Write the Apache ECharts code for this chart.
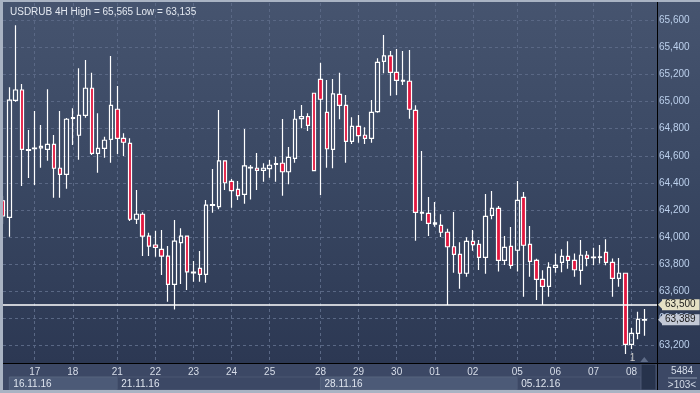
<!DOCTYPE html>
<html><head><meta charset="utf-8">
<script src="https://cdn.jsdelivr.net/npm/echarts@6/dist/echarts.min.js"></script>
<style>html,body{margin:0;padding:0;background:#3c4865;}#c{width:700px;height:393px;}</style>
</head><body><div id="c"></div>
<script>
// ---- data (USDRUB 4H candles) ----
const opens  = [64268,64145,65010,65086,64640,64652,64658,64648,64685,64508,64463,64877,64752,64899,65099,64618,64655,64722,64944,64729,
                64692,64131,64168,64007,63941,63909,63859,63650,63958,64007,63735,63768,63724,64234,64224,64562,64411,64352,64315,64510,
                64508,64493,64505,64537,64545,64482,64581,64874,64889,65062,65165,64921,64648,65054,64973,64707,64818,64752,64729,64926,
                65298,65338,65217,65152,65151,64936,64177,64175,64095,64086,64035,63928,63872,63732,63968,63946,63850,64160,64212,63828,
                63931,63902,64293,63946,63828,63687,63635,63776,63813,63857,63828,63754,63865,63848,63850,63887,63813,63695,63732,63207,
                63288,63386];
const closes = [64155,65012,65086,64648,64645,64657,64670,64685,64508,64463,64870,64882,64899,65099,64618,64655,64715,64973,64729,64700,
                64131,64168,64007,63933,63924,63859,63650,63970,64007,63743,63740,63724,64236,64239,64562,64401,64342,64305,64525,64515,
                64493,64508,64530,64542,64482,64589,64870,64889,64825,64490,65018,64652,65057,64973,64707,64818,64749,64729,64921,65291,
                65338,65217,65158,65157,64944,64182,64182,64101,64105,64035,63928,63872,63732,63968,63943,63850,64153,64212,63828,63924,
                63791,64271,63939,63820,63687,63635,63776,63791,63857,63828,63758,63865,63842,63852,63853,63813,63695,63732,63207,63288,
                63392,63389];
const lows   = [64096,64002,65000,64377,64436,64384,64512,64564,64290,64290,64357,64680,64571,64882,64606,64475,64586,64549,64613,64598,
                64118,64096,63859,63859,63854,63719,63522,63465,63652,63608,63669,63669,63662,64179,64205,64347,64216,64273,64246,64278,
                64347,64409,64438,64409,64305,64389,64549,64803,64783,64485,64310,64512,64508,64870,64549,64687,64697,64687,64697,64918,
                65210,65044,65049,65123,64874,63972,64120,64007,64076,64000,63497,63736,63618,63706,63899,63756,63729,64131,63746,63793,
                63766,63746,63559,63706,63534,63497,63559,63736,63739,63766,63706,63647,63783,63791,63805,63791,63559,63632,63135,63172,
                63244,63270];
const highs  = [64303,65106,65565,65131,64791,64931,64828,65091,64754,64931,64879,64951,65247,65308,65214,64914,64741,65338,65116,64766,
                64729,64347,64182,64032,64046,64052,63933,64125,64064,64010,63822,63896,64273,64502,64938,64565,64428,64414,64798,64532,
                64621,64545,64569,64593,64872,64665,64938,64975,64914,65065,65288,65160,65168,65214,65049,64884,64901,64811,65012,65321,
                65493,65375,65389,65375,65382,64973,64635,64295,64258,64168,64061,64185,63961,63998,64052,63978,64318,64340,64229,64007,
                64074,64414,64332,64081,63840,63754,63813,63879,63909,63968,63879,63978,63896,63921,63941,63983,63842,63845,63735,63327,
                63448,63468];
const dayLabels  = ['17','18','21','22','23','24','25','28','29','30','01','02','05','06','07','08'];
const dayStarts  = [5,11,18,24,30,36,42,50,56,62,68,74,81,87,93,99];
const weekLabels = ['16.11.16','21.11.16','28.11.16','05.12.16'];
const weekStarts = [1,18,50,81];
const yTicks = [63200,63400,63600,63800,64000,64200,64400,64600,64800,65000,65200,65400,65600];
const priceLine = 63500;
const lastPrice = 63389;
const titleText = 'USDRUB 4H High = 65,565 Low = 63,135';
const barsText = '5484';
const shiftText = '>103<';
const markerText = '1';

// ---- chart ----
const FONT = '"Liberation Sans", Arial, sans-serif';
const N = opens.length;
const categories = Array.from({length: N + 2}, (_, i) => String(i));
const candleData = opens.map((o, i) => [o, closes[i], lows[i], highs[i]]);
const fmt = v => { const s = String(Math.round(v)); return s.slice(0, s.length - 3) + ',' + s.slice(-3); };
const isDay = i => dayStarts.indexOf(i) >= 0;

const chart = echarts.init(document.getElementById('c'), null, {renderer: 'canvas'});
chart.setOption({
  animation: false,
  backgroundColor: '#3c4865',
  title: {text: titleText, left: 5, top: 2, textStyle: {color: '#e4e9f1', fontSize: 10, fontWeight: 'normal', fontFamily: FONT}},
  grid: {left: 3, right: 43, top: 3, bottom: 30},
  xAxis: {
    type: 'category', data: categories, boundaryGap: false,
    axisLine: {show: true, lineStyle: {color: '#000', width: 1}},
    axisTick: {show: false},
    axisLabel: {interval: (i) => isDay(i), formatter: (v, i) => { const k = dayStarts.indexOf(Number(v)); return k >= 0 ? dayLabels[k] : ''; },
                color: '#d8dee9', fontSize: 10, fontFamily: FONT, margin: 4},
    splitLine: {show: true, interval: (i) => isDay(i), lineStyle: {color: '#5a6885', type: [3, 3], width: 1}}
  },
  yAxis: {
    type: 'value', position: 'right', min: 63069, max: 65729,
    axisLine: {show: true, lineStyle: {color: '#000', width: 1}},
    axisTick: {show: false, customValues: yTicks},
    axisLabel: {customValues: yTicks, formatter: fmt, color: '#bcd0ec', fontSize: 10, fontFamily: FONT, margin: 2},
    splitLine: {show: true, lineStyle: {color: '#5a6885', type: [3, 3], width: 1}}
  },
  series: [{
    type: 'candlestick', data: candleData, barWidth: 4, clip: false,
    itemStyle: {color: 'rgba(0,0,0,0)', color0: '#e3173f', borderColor: '#ffffff', borderColor0: '#ffffff', borderWidth: 1.2},
    markLine: {
      symbol: 'none', silent: true, animation: false,
      data: [
        {yAxis: priceLine, lineStyle: {color: '#ffffff', width: 1.5, type: 'solid'},
         label: {show: true, position: 'end', distance: 5, formatter: () => fmt(priceLine), color: '#1a1a1a', backgroundColor: '#e4e0c4',
                 padding: [1, 4, 0, 3], fontSize: 10, fontFamily: FONT}},
        {yAxis: lastPrice, lineStyle: {color: 'rgba(255,255,255,0)', width: 1, type: 'solid'},
         label: {show: true, position: 'end', distance: 5, formatter: () => fmt(lastPrice), color: '#1a1a1a', backgroundColor: '#c3c9d6',
                 padding: [1, 4, 0, 3], fontSize: 10, fontFamily: FONT}}
      ]
    }
  }]
});

const px = i => chart.convertToPixel({xAxisIndex: 0}, i);
const py = v => chart.convertToPixel({yAxisIndex: 0}, v);
const g = [];
// plot + right panel background gradient
g.push({type: 'rect', z: -10, shape: {x: 0, y: 0, width: 700, height: 363},
  style: {fill: new echarts.graphic.LinearGradient(0, 0, 0, 1, [{offset: 0, color: '#46546f'}, {offset: 0.5, color: '#394762'}, {offset: 1, color: '#2c3853'}])}});
// week boxes
const scrollX = 641;
weekStarts.forEach((s, k) => {
  const x0 = px(s);
  const x1 = k < weekStarts.length - 1 ? px(weekStarts[k + 1]) : scrollX;
  const light = k % 2 === 0;
  g.push({type: 'rect', z: 50, shape: {x: x0, y: 377, width: x1 - x0, height: 13},
    style: {fill: light ? '#4c5a77' : '#3c4865', stroke: light ? '#56647f' : '#4a5773', lineWidth: 1}});
  g.push({type: 'text', z: 51, x: x0 + 4, y: 384, style: {text: weekLabels[k], fill: '#dfe5ef', font: '10px ' + FONT, textVerticalAlign: 'middle'}});
});
// scroll area
g.push({type: 'rect', z: 50, shape: {x: scrollX, y: 364, width: 15, height: 26}, style: {fill: '#27334c', stroke: '#4a5773', lineWidth: 1}});
g.push({type: 'text', z: 51, x: px(99) + 1, y: 358, style: {text: markerText, fill: '#c8c8c8', font: '10px ' + FONT, textAlign: 'center', textVerticalAlign: 'middle'}});
g.push({type: 'polygon', z: 51, shape: {points: [[px(101) - 4, 362], [px(101), 357], [px(101) + 4, 362]]}, style: {fill: '#5e6c88'}});
// black separators
g.push({type: 'line', z: 60, shape: {x1: 657.5, y1: 0, x2: 657.5, y2: 393}, style: {stroke: '#000', lineWidth: 1}});
g.push({type: 'line', z: 60, shape: {x1: 0, y1: 363.5, x2: 700, y2: 363.5}, style: {stroke: '#000', lineWidth: 1}});
// right bottom panel
g.push({type: 'text', z: 51, x: 682, y: 371, style: {text: barsText, fill: '#d4dbe7', font: '10px ' + FONT, textAlign: 'center', textVerticalAlign: 'middle'}});
g.push({type: 'line', z: 51, shape: {x1: 668, y1: 378, x2: 697, y2: 378}, style: {stroke: '#8a96ad', lineWidth: 1}});
g.push({type: 'text', z: 51, x: 682, y: 385, style: {text: shiftText, fill: '#d4dbe7', font: '10px ' + FONT, textAlign: 'center', textVerticalAlign: 'middle'}});
// badge arrows
[[priceLine, '#e4e0c4'], [lastPrice, '#c3c9d6']].forEach(([v, c]) => {
  const y = py(v);
  g.push({type: 'polygon', z: 55, shape: {points: [[658, y], [663, y - 5], [663, y + 5]]}, style: {fill: c}});
});
// outer frame
g.push({type: 'rect', z: 70, shape: {x: 0, y: 0, width: 3, height: 393}, style: {fill: '#a9b3c3'}});
g.push({type: 'rect', z: 70, shape: {x: 0, y: 0, width: 700, height: 2}, style: {fill: '#a9b3c3'}});
g.push({type: 'rect', z: 70, shape: {x: 0, y: 390, width: 700, height: 3}, style: {fill: '#a9b3c3'}});
chart.setOption({graphic: g});
</script></body></html>
